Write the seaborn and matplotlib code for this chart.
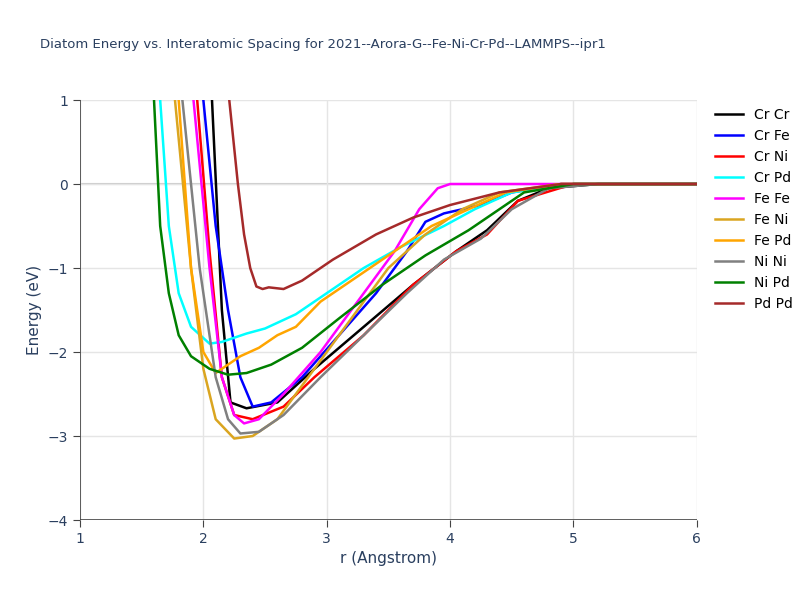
import matplotlib
matplotlib.use("Agg")
import matplotlib.pyplot as plt
import seaborn as sns
import pandas as pd

names = ["Cr Cr","Cr Fe","Cr Ni","Cr Pd","Fe Fe","Fe Ni","Fe Pd","Ni Ni","Ni Pd","Pd Pd"]
colors = ["black","blue","red","cyan","magenta","goldenrod","orange","grey","green","brown"]
r_crcr = [2.07,2.15,2.22,2.35,2.6,2.9,3.3,3.7,4.05,4.3,4.55,4.8,5.2,6]
e_crcr = [1,-1.5,-2.6,-2.67,-2.6,-2.2,-1.7,-1.2,-0.8,-0.55,-0.2,-0.05,0,0]
r_crfe = [2.0,2.1,2.2,2.3,2.4,2.55,2.8,3.1,3.4,3.65,3.8,3.95,4.25,4.5,4.9,6]
e_crfe = [1,-0.5,-1.5,-2.3,-2.65,-2.6,-2.3,-1.8,-1.3,-0.8,-0.45,-0.35,-0.25,-0.1,0,0]
r_crni = [1.95,2.05,2.15,2.25,2.4,2.65,2.9,3.3,3.7,4.05,4.3,4.55,5,6]
e_crni = [1,-0.8,-2.3,-2.75,-2.8,-2.65,-2.3,-1.8,-1.2,-0.8,-0.6,-0.2,0,0]
r_crpd = [1.65,1.72,1.8,1.9,2.05,2.15,2.35,2.5,2.75,3.0,3.3,3.6,3.95,4.2,4.5,5,6]
e_crpd = [1,-0.5,-1.3,-1.7,-1.9,-1.88,-1.78,-1.72,-1.55,-1.3,-1.0,-0.75,-0.5,-0.3,-0.1,0,0]
r_fefe = [1.92,2.05,2.15,2.25,2.33,2.45,2.65,2.95,3.25,3.55,3.75,3.9,4.0,6]
e_fefe = [1,-1.0,-2.3,-2.75,-2.85,-2.8,-2.5,-2.0,-1.4,-0.8,-0.3,-0.05,0,0]
r_feni = [1.77,1.9,2.0,2.1,2.25,2.4,2.6,2.85,3.2,3.5,3.8,4.1,4.4,4.9,6]
e_feni = [1,-1,-2.2,-2.8,-3.03,-3.0,-2.8,-2.3,-1.6,-1.0,-0.6,-0.3,-0.1,0,0]
r_fepd = [1.8,1.9,2.0,2.1,2.3,2.45,2.6,2.75,2.95,3.25,3.55,3.85,4.15,4.45,4.9,6]
e_fepd = [1,-1,-2,-2.25,-2.05,-1.95,-1.8,-1.7,-1.4,-1.1,-0.8,-0.5,-0.3,-0.1,0,0]
r_nini = [1.83,1.97,2.1,2.2,2.3,2.45,2.65,2.95,3.3,3.65,3.95,4.25,4.5,4.8,5.2,6]
e_nini = [1,-1,-2.3,-2.8,-2.97,-2.95,-2.75,-2.3,-1.8,-1.3,-0.9,-0.65,-0.3,-0.05,0,0]
r_nipd = [1.6,1.65,1.72,1.8,1.9,2.05,2.2,2.35,2.55,2.8,3.1,3.45,3.8,4.15,4.35,4.6,5,6]
e_nipd = [1,-0.5,-1.3,-1.8,-2.05,-2.2,-2.27,-2.25,-2.15,-1.95,-1.6,-1.2,-0.85,-0.55,-0.35,-0.1,0,0]
r_pdpd = [2.21,2.28,2.33,2.38,2.43,2.48,2.53,2.65,2.8,3.05,3.4,3.7,4.0,4.4,4.9,6]
e_pdpd = [1,0,-0.6,-1.0,-1.22,-1.25,-1.23,-1.25,-1.15,-0.9,-0.6,-0.4,-0.25,-0.1,0,0]

rs = [r_crcr,r_crfe,r_crni,r_crpd,r_fefe,r_feni,r_fepd,r_nini,r_nipd,r_pdpd]
es = [e_crcr,e_crfe,e_crni,e_crpd,e_fefe,e_feni,e_fepd,e_nini,e_nipd,e_pdpd]
rows = []
for n, r, e in zip(names, rs, es):
    for a, b in zip(r, e):
        rows.append((n, a, b))
df = pd.DataFrame(rows, columns=["pair", "r", "E"])

fig = plt.figure(figsize=(8, 6), dpi=100)
ax = fig.add_axes([0.1, 0.1333, 0.771, 0.7])
ax.grid(True, color="#e5e5e5", lw=1)
ax.axhline(0, color="#cccccc", lw=1.5, zorder=1)
sns.lineplot(data=df, x="r", y="E", hue="pair", palette=dict(zip(names, colors)),
             sort=False, estimator=None, lw=1.8, ax=ax, zorder=3)
ax.set_xlim(1, 6); ax.set_ylim(-4, 1)
for s in ax.spines.values(): s.set_visible(False)
ax.axhline(-4, color="#444444", lw=1.2, zorder=4)
ax.axvline(1, color="#444444", lw=1.2, zorder=4)
ax.tick_params(colors="#444444", labelcolor="#2a3f5f", length=5, labelsize=10)
ax.set_xlabel("r (Angstrom)", color="#2a3f5f", fontsize=11)
ax.set_ylabel("Energy (eV)", color="#2a3f5f", fontsize=11)
ax.legend(loc="upper left", bbox_to_anchor=(1.01, 1.01), frameon=False, fontsize=10, handlelength=2)
fig.text(0.05, 0.92, "Diatom Energy vs. Interatomic Spacing for 2021--Arora-G--Fe-Ni-Cr-Pd--LAMMPS--ipr1",
         fontsize=9.5, color="#2a3f5f")
fig.savefig("out.png")
